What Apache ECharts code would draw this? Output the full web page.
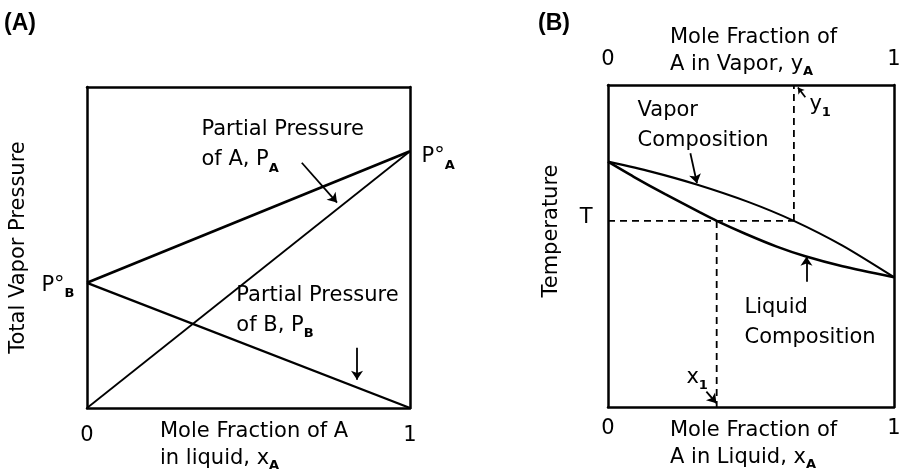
<!DOCTYPE html>
<html><head><meta charset="utf-8">
<script src="https://cdn.jsdelivr.net/npm/echarts@6/dist/echarts.min.js"></script>
<style>html,body{margin:0;padding:0;background:#fff}#c{width:899px;height:470px}</style>
</head><body><div id="c"></div>
<script>
// ---------- data ----------
const xTicks = ['0', '1'];
// Panel A: Raoult's law lines (x_A, pressure fraction)
const xA = [0, 1];
const totalP = [0.39, 0.80];
const partialA = [0, 0.80];
const partialB = [0.39, 0];
// Panel B: boiling diagram
const liquidX = [0, 0.09, 0.20, 0.32, 0.38, 0.48, 0.59, 0.69, 0.82, 1];
const liquidT = [0.762, 0.715, 0.661, 0.605, 0.578, 0.538, 0.498, 0.468, 0.437, 0.403];
const vaporX = [0, 0.15, 0.31, 0.49, 0.65, 0.82, 1];
const vaporT = [0.762, 0.731, 0.691, 0.637, 0.578, 0.501, 0.403];
const tieT = 0.578, x1 = 0.38, y1 = 0.65;

// ---------- style ----------
const FF = 'DejaVu Sans';
const INK = '#000';
const rich = {
  n: {fontFamily: FF, fontSize: 21, fontWeight: 'normal', color: INK, lineHeight: 30},
  s: {fontFamily: FF, fontSize: 13, fontWeight: 'bold', color: INK, lineHeight: 18, verticalAlign: 'bottom'}
};
const richT = {
  n: {fontFamily: FF, fontSize: 21, fontWeight: 'normal', color: INK, lineHeight: 27},
  s: {fontFamily: FF, fontSize: 13, fontWeight: 'bold', color: INK, lineHeight: 15, verticalAlign: 'bottom'}
};
const pairs = (xs, ys) => xs.map((x, i) => [x, ys[i]]);

function lineSeries(xi, yi, data, width, extra) {
  return Object.assign({
    type: 'line', xAxisIndex: xi, yAxisIndex: yi, data: data,
    showSymbol: false, symbol: 'none', clip: false, silent: true,
    lineStyle: {color: INK, width: width}
  }, extra || {});
}
function arrows(xi, yi, list, size) {
  return {
    type: 'line', xAxisIndex: xi, yAxisIndex: yi, data: [], silent: true,
    markLine: {
      silent: true, animation: false, symbol: ['none', 'arrow'], symbolSize: size,
      label: {show: false},
      lineStyle: {color: INK, width: 1.8, type: 'solid'},
      emphasis: {disabled: true},
      data: list.map(a => [{coord: [a[0], a[1]]}, {coord: [a[2], a[3]]}])
    }
  };
}
function notes(xi, yi, list) {
  return {
    type: 'scatter', xAxisIndex: xi, yAxisIndex: yi, silent: true, clip: false,
    symbolSize: 1, itemStyle: {color: 'transparent', opacity: 1},
    data: list.map(n => ({
      value: [n.x, n.y],
      label: {
        show: true, position: [0, 0], formatter: n.t, rich: rich, color: INK,
        align: n.align || 'left', verticalAlign: 'middle',
        offset: n.off || [0, 0]
      }
    }))
  };
}

const boxLine = {show: true, onZero: false, lineStyle: {color: INK, width: 2.5}};
const axisCommon = {
  type: 'value', min: 0, max: 1, interval: 1,
  axisLine: boxLine, axisTick: {show: false}, splitLine: {show: false}
};
const tickLabel = (margin) => ({
  show: true, margin: margin, showMinLabel: true, showMaxLabel: true,
  fontFamily: FF, fontSize: 21, color: INK,
  formatter: v => xTicks[Math.round(v)]
});
const noLabel = {show: false};
const panelTitle = {fontFamily: 'Liberation Sans', fontWeight: 'bold', fontSize: 23, color: INK, lineHeight: 26};

const option = {
  backgroundColor: '#fff',
  animation: false,
  title: [
    {text: '(A)', left: 4, top: 11, padding: 0, textStyle: panelTitle},
    {text: '(B)', left: 538, top: 11, padding: 0, textStyle: panelTitle},
    {text: '{n|Mole Fraction of A}\n{n|in liquid, x}{s|A}', left: 160, top: 418, padding: 0,
     textStyle: {fontWeight: 'normal', rich: richT}},
    {text: '{n|Mole Fraction of}\n{n|A in Vapor, y}{s|A}', left: 670, top: 24, padding: 0,
     textStyle: {fontWeight: 'normal', rich: richT}},
    {text: '{n|Mole Fraction of}\n{n|A in Liquid, x}{s|A}', left: 670, top: 417, padding: 0,
     textStyle: {fontWeight: 'normal', rich: richT}}
  ],
  grid: [
    {left: 87, top: 87, width: 323, height: 321, show: false, outerBoundsMode: 'none', containLabel: false},
    {left: 608, top: 85, width: 286, height: 322, show: false, outerBoundsMode: 'none', containLabel: false}
  ],
  xAxis: [
    Object.assign({}, axisCommon, {gridIndex: 0, position: 'bottom', axisLabel: tickLabel(17)}),
    Object.assign({}, axisCommon, {gridIndex: 1, position: 'bottom', axisLabel: tickLabel(11)}),
    Object.assign({}, axisCommon, {gridIndex: 1, position: 'top', axisLabel: tickLabel(15)}),
    Object.assign({}, axisCommon, {gridIndex: 0, position: 'top', axisLabel: noLabel})
  ],
  yAxis: [
    Object.assign({}, axisCommon, {gridIndex: 0, position: 'left', axisLabel: noLabel,
      name: 'Total Vapor Pressure', nameLocation: 'middle', nameGap: 58,
      nameTextStyle: {fontFamily: FF, fontSize: 21, color: INK}}),
    Object.assign({}, axisCommon, {gridIndex: 1, position: 'left', axisLabel: noLabel,
      name: 'Temperature', nameLocation: 'middle', nameGap: 46,
      nameTextStyle: {fontFamily: FF, fontSize: 21, color: INK, padding: [0, 0, 0, 30]}}),
    Object.assign({}, axisCommon, {gridIndex: 0, position: 'right', axisLabel: noLabel}),
    Object.assign({}, axisCommon, {gridIndex: 1, position: 'right', axisLabel: noLabel})
  ],
  series: [
    // Panel A
    lineSeries(0, 0, pairs(xA, totalP), 2.8),
    lineSeries(0, 0, pairs(xA, partialA), 1.8),
    lineSeries(0, 0, pairs(xA, partialB), 2.4),
    arrows(0, 0, [[0.665, 0.764, 0.774, 0.640], [0.836, 0.188, 0.836, 0.088]], 9),
    notes(0, 0, [
      {x: 0.356, y: 0.818, t: '{n|Partial Pressure}\n{n|of A, P}{s|A}'},
      {x: 0.464, y: 0.302, t: '{n|Partial Pressure}\n{n|of B, P}{s|B}'},
      {x: 0, y: totalP[0], t: '{n|P°}{s|B}', align: 'right', off: [-12, 3]},
      {x: 1, y: totalP[1], t: '{n|P°}{s|A}', off: [12, 6]}
    ]),
    // Panel B
    lineSeries(1, 1, pairs(liquidX, liquidT), 2.6, {smooth: 0.25}),
    lineSeries(2, 1, pairs(vaporX, vaporT), 2.1, {smooth: 0.25}),
    lineSeries(1, 1, [[0, tieT], [y1, tieT]], 1.8, {lineStyle: {color: INK, width: 1.8, type: [7, 5]}}),
    lineSeries(2, 1, [[y1, tieT], [y1, 1]], 1.8, {lineStyle: {color: INK, width: 1.8, type: [7, 5]}}),
    lineSeries(1, 1, [[x1, tieT], [x1, 0]], 1.8, {lineStyle: {color: INK, width: 1.8, type: [7, 5]}}),
    arrows(1, 1, [[0.288, 0.788, 0.311, 0.695], [0.694, 0.389, 0.694, 0.467], [0.344, 0.048, 0.379, 0.012]], 9),
    arrows(2, 1, [[0.690, 0.962, 0.664, 0.992]], 6),
    notes(1, 1, [
      {x: 0.105, y: 0.873, t: '{n|Vapor}\n{n|Composition}'},
      {x: 0.479, y: 0.262, t: '{n|Liquid}\n{n|Composition}'},
      {x: 0, y: tieT, t: '{n|T}', align: 'right', off: [-15, -3]},
      {x: 0.706, y: 0.938, t: '{n|y}{s|1}'},
      {x: 0.276, y: 0.09, t: '{n|x}{s|1}'}
    ])
  ]
};
const chart = echarts.init(document.getElementById('c'));
chart.setOption(option);
</script>
</body></html>
